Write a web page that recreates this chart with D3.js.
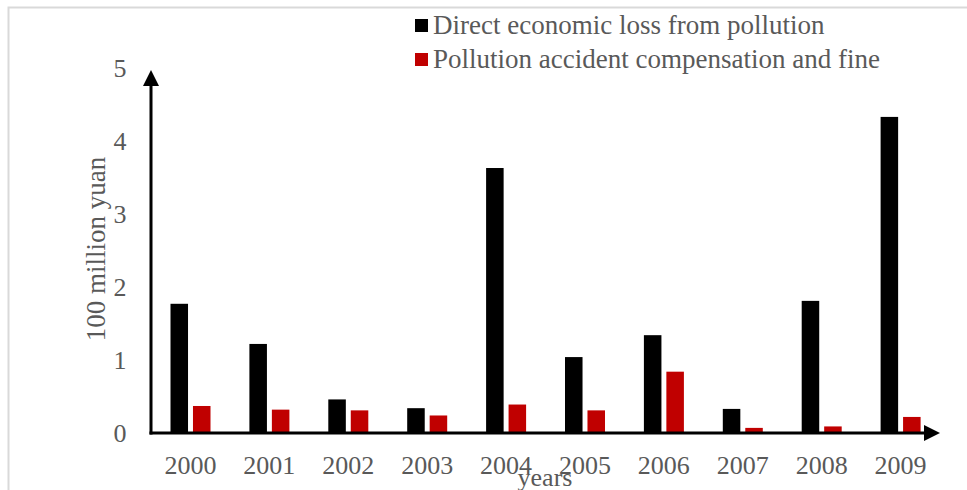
<!DOCTYPE html>
<html>
<head>
<meta charset="utf-8">
<script src="https://cdn.jsdelivr.net/npm/d3@7"></script>
<style>
  html, body { margin: 0; padding: 0; background: #fff; }
  svg { display: block; }
  text { font-family: "Liberation Serif", "Times New Roman", serif; fill: #595959; }
</style>
</head>
<body>
<svg id="chart" width="967" height="490"></svg>
<script>
// Yearly values, in 100 million yuan
const years = ["2000", "2001", "2002", "2003", "2004", "2005", "2006", "2007", "2008", "2009"];
const directLoss = [1.77, 1.22, 0.46, 0.34, 3.63, 1.04, 1.34, 0.33, 1.81, 4.33];
const compensation = [0.37, 0.32, 0.31, 0.24, 0.39, 0.31, 0.84, 0.07, 0.09, 0.22];
const seriesNames = ["Direct economic loss from pollution", "Pollution accident compensation and fine"];
const seriesColors = ["#000000", "#C00000"];
const yTicks = [0, 1, 2, 3, 4, 5];

const svg = d3.select("#chart");

// outer frame (top and left edges)
svg.append("path")
  .attr("d", "M8.5,490 L8.5,7.5 L967,7.5")
  .attr("fill", "none")
  .attr("stroke", "#d9d9d9")
  .attr("stroke-width", 2);

const x0 = d3.scaleBand().domain(years).range([151, 940]).padding(0);
const x1 = d3.scaleBand().domain([0, 1]).range([19.5, 59.5]).paddingInner(0.22).paddingOuter(0);
const y = d3.scaleLinear().domain([0, 5]).range([433, 68]);

const series = [directLoss, compensation];

// bars
series.forEach((vals, si) => {
  svg.append("g").selectAll("rect")
    .data(vals)
    .join("rect")
    .attr("x", (d, i) => x0(years[i]) + x1(si))
    .attr("width", x1.bandwidth())
    .attr("y", d => y(d))
    .attr("height", d => y(0) - y(d))
    .attr("fill", seriesColors[si]);
});

// y tick labels
svg.append("g").selectAll("text")
  .data(yTicks)
  .join("text")
  .attr("x", 120)
  .attr("y", d => y(d))
  .attr("dy", "0.35em")
  .attr("text-anchor", "middle")
  .attr("font-size", 26)
  .text(d => d);

// x tick labels
svg.append("g").selectAll("text")
  .data(years)
  .join("text")
  .attr("x", d => x0(d) + x0.bandwidth() / 2)
  .attr("y", 474)
  .attr("text-anchor", "middle")
  .attr("font-size", 26)
  .text(d => d);

// axes with arrow heads
const axisG = svg.append("g");
axisG.append("line")
  .attr("x1", 151).attr("y1", y(0) + 1.5)
  .attr("x2", 151).attr("y2", 84)
  .attr("stroke", "#000").attr("stroke-width", 3);
axisG.append("path")
  .attr("d", "M151,70 L143,86 L159,86 Z")
  .attr("fill", "#000");
axisG.append("line")
  .attr("x1", 149.5).attr("y1", y(0))
  .attr("x2", 926).attr("y2", y(0))
  .attr("stroke", "#000").attr("stroke-width", 3);
axisG.append("path")
  .attr("d", `M940,${y(0)} L924,${y(0) - 8} L924,${y(0) + 8} Z`)
  .attr("fill", "#000");

// axis titles
svg.append("text")
  .attr("transform", "translate(96,249) rotate(-90)")
  .attr("text-anchor", "middle")
  .attr("dy", "0.35em")
  .attr("font-size", 27)
  .text("100 million yuan");

svg.append("text")
  .attr("x", 545)
  .attr("y", 486)
  .attr("text-anchor", "middle")
  .attr("font-size", 26)
  .text("years");

// legend
const legend = svg.append("g").selectAll("g")
  .data(seriesNames)
  .join("g")
  .attr("transform", (d, i) => `translate(415,${25 + i * 34})`);
legend.append("rect")
  .attr("x", 0).attr("y", -6)
  .attr("width", 13).attr("height", 13)
  .attr("fill", (d, i) => seriesColors[i]);
legend.append("text")
  .attr("x", 18)
  .attr("y", 0)
  .attr("dy", "0.35em")
  .attr("font-size", 27)
  .text(d => d);
</script>
</body>
</html>
